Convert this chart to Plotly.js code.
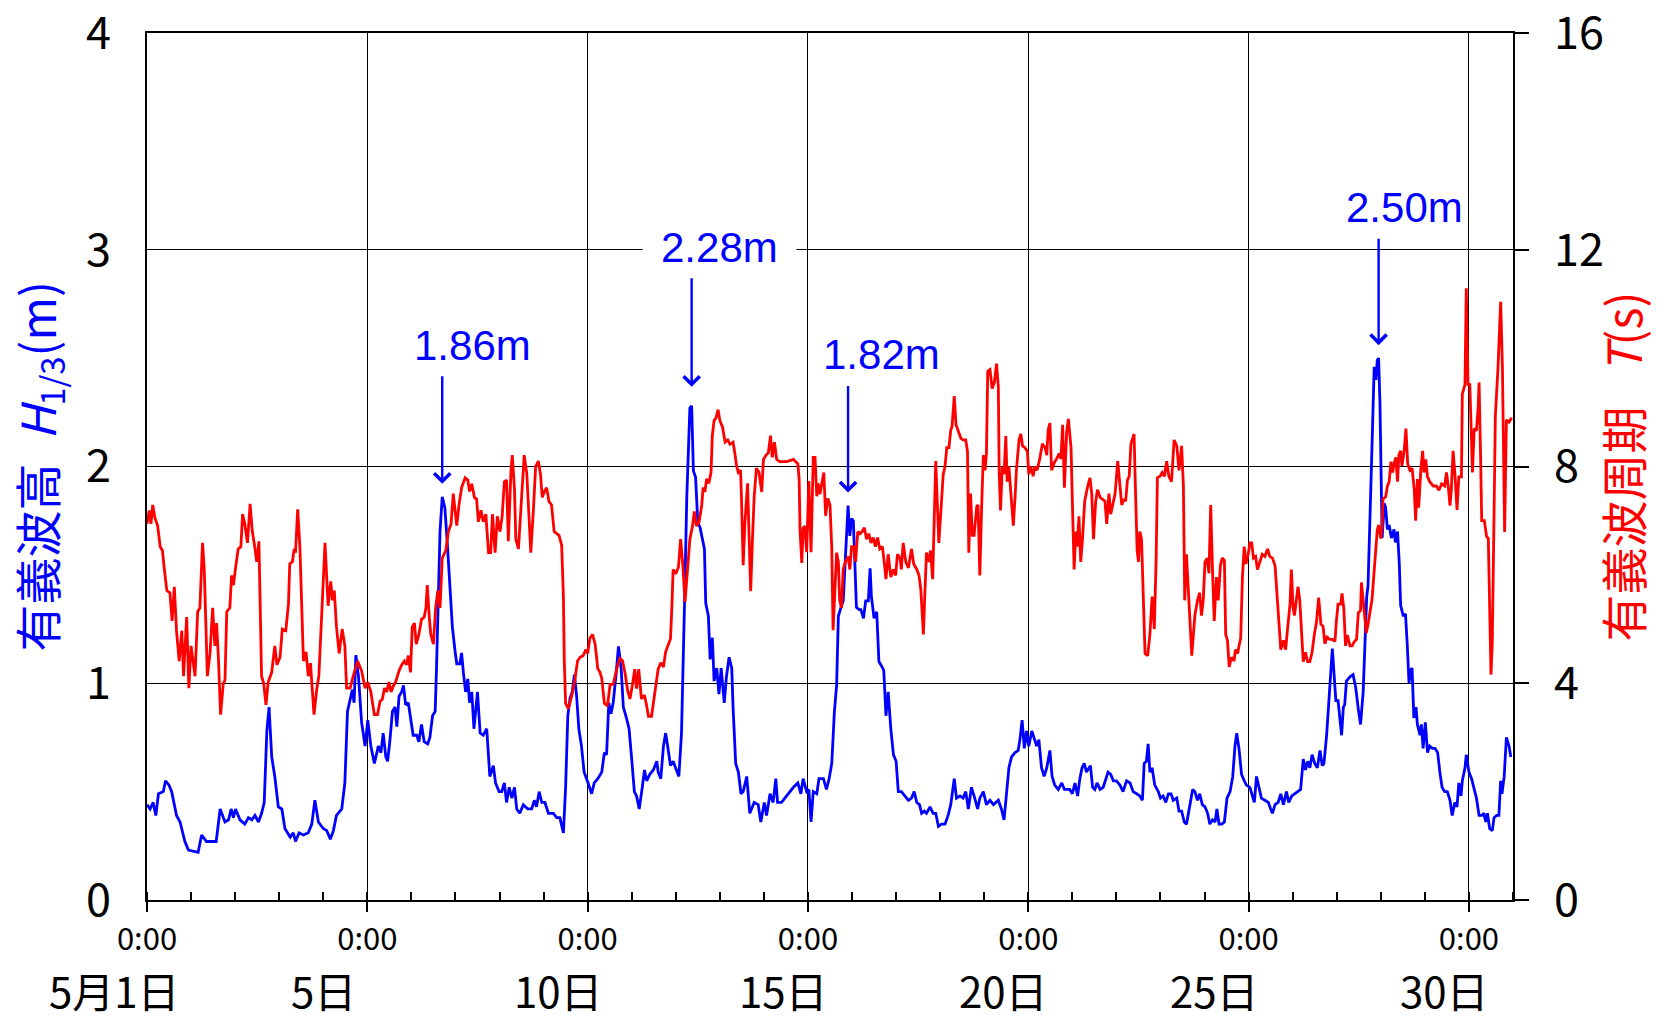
<!DOCTYPE html>
<html>
<head>
<meta charset="utf-8">
<script src="https://cdn.plot.ly/plotly-3.0.1.min.js"></script>
<style>
  html, body { margin: 0; padding: 0; background: #ffffff; }
  #chart { width: 1657px; height: 1020px; }
</style>
</head>
<body>
<div id="chart"></div>
<script>
// ---- DATA (time in days since 5/1 0:00) ----
const blueDay = [
  0.00,0.07,0.14,0.20,0.26,0.37,0.42,0.50,0.56,0.62,0.67,0.75,0.80,0.86,0.94,1.09,1.16,1.24,1.35,1.47,
  1.57,1.66,1.77,1.85,1.91,1.96,2.01,2.11,2.22,2.30,2.38,2.45,2.53,2.60,2.66,2.72,2.77,2.83,2.90,2.98,
  3.06,3.13,3.25,3.32,3.37,3.45,3.55,3.66,3.74,3.81,3.89,4.00,4.08,4.16,4.23,4.30,4.42,4.49,4.55,4.66,
  4.70,4.74,4.80,4.87,4.95,5.01,5.08,5.16,
  5.25,5.31,5.36,5.42,5.46,5.51,5.57,5.63,5.67,5.72,5.78,5.82,5.87,5.93,5.98,6.04,6.12,6.17,6.23,6.29,
  6.37,6.42,6.48,6.54,6.57,6.61,6.65,6.70,6.76,6.82,6.88,6.93,6.99,7.03,7.10,7.14,7.18,7.23,7.28,7.32,
  7.37,7.42,7.50,7.56,7.63,7.71,7.78,7.86,7.91,7.99,8.05,8.11,8.16,8.22,8.28,8.34,8.39,8.46,8.54,8.64,
  8.73,8.79,8.84,8.90,8.96,9.03,9.11,9.22,9.30,9.37,9.45,9.50,9.55,9.60,9.65,9.70,9.75,9.80,9.86,9.92,
  10.01,10.09,10.15,10.23,10.32,10.38,
  10.43,10.48,10.53,10.58,10.64,10.70,10.76,10.81,10.88,10.94,11.00,11.06,11.11,11.17,11.24,11.29,11.34,11.41,11.49,11.57,
  11.60,11.66,11.72,11.77,11.83,11.88,11.94,11.99,12.07,12.13,12.17,12.21,12.25,12.28,12.32,12.36,12.40,12.45,12.50,12.55,
  12.59,12.65,12.68,12.74,12.78,12.83,12.87,12.93,12.98,13.03,13.10,13.15,13.21,13.27,13.30,13.36,13.42,13.48,13.53,13.61,
  13.68,13.78,13.87,13.93,14.01,14.06,14.14,14.21,14.27,14.31,14.40,14.55,14.67,14.77,14.84,14.89,14.97,15.02,15.07,15.12,
  15.20,15.25,15.35,15.42,15.48,15.54,15.60,
  15.65,15.69,15.75,15.80,15.85,15.91,15.95,15.99,16.03,16.07,16.10,16.16,16.20,16.26,16.31,16.37,16.41,16.44,16.50,16.56,
  16.61,16.67,16.72,16.77,16.82,16.88,16.94,17.00,17.05,17.12,17.20,17.28,17.35,17.41,17.47,17.53,17.58,17.64,17.69,17.77,
  17.84,17.90,17.96,18.03,18.11,18.18,18.24,18.32,18.37,18.45,18.52,18.58,18.64,18.71,18.77,18.85,18.90,18.98,19.05,19.13,
  19.21,19.32,19.39,19.45,19.51,19.56,19.62,19.70,19.77,19.81,19.86,19.91,19.96,20.01,20.08,20.14,20.19,20.24,20.30,20.36,
  20.42,20.49,20.54,20.60,20.68,20.76,20.82,
  20.89,20.94,21.00,21.06,21.12,21.17,21.22,21.27,21.32,21.38,21.41,21.46,21.51,21.56,21.63,21.70,21.75,21.81,21.87,21.93,
  22.00,22.08,22.15,22.23,22.31,22.38,22.46,22.53,22.59,22.63,22.68,22.72,22.76,22.81,22.87,22.95,23.00,23.06,23.12,23.18,
  23.24,23.29,23.37,23.42,23.48,23.54,23.59,23.65,23.73,23.78,23.84,23.89,23.95,24.01,24.07,24.12,24.18,24.24,24.28,24.33,
  24.39,24.45,24.51,24.58,24.64,24.69,24.73,24.78,24.84,24.90,24.95,25.03,25.08,25.13,25.18,25.23,25.29,25.37,25.45,25.50,
  25.54,25.60,25.67,25.73,25.79,25.86,25.91,25.98,26.04,
  26.12,26.18,26.24,26.29,26.34,26.39,26.44,26.50,26.56,26.62,26.67,26.71,26.77,26.81,26.86,26.90,26.94,26.98,27.03,27.07,
  27.11,27.15,27.18,27.22,27.30,27.37,27.43,27.49,27.54,27.60,27.64,27.68,27.71,27.75,27.80,27.85,27.89,27.92,27.95,27.98,
  28.00,28.03,28.08,28.11,28.15,28.19,28.24,28.30,28.33,28.38,28.42,28.45,28.51,28.56,28.60,28.64,28.68,28.71,28.75,28.80,
  28.83,28.89,28.92,28.96,29.01,29.06,29.11,29.17,29.23,29.29,29.34,29.39,29.45,29.51,29.57,29.62,29.68,29.73,29.77,29.82,
  29.85,29.91,29.94,30.00,30.06,30.12,30.17,30.23,30.29,30.34,30.38,30.42,30.47,30.53,30.57,30.63,30.68,30.72,30.75,30.80,
  30.85,30.91,30.95
];
const blueH = [
  0.44,0.42,0.45,0.39,0.49,0.50,0.55,0.53,0.50,0.43,0.39,0.36,0.32,0.27,0.23,0.225,0.22,0.30,0.27,0.27,
  0.27,0.42,0.36,0.37,0.42,0.38,0.42,0.37,0.35,0.38,0.37,0.39,0.36,0.40,0.45,0.78,0.89,0.66,0.57,0.43,
  0.42,0.33,0.29,0.31,0.27,0.31,0.30,0.31,0.35,0.46,0.36,0.33,0.32,0.28,0.32,0.39,0.42,0.54,0.87,0.97,
  0.91,1.13,1.03,0.82,0.71,0.83,0.71,0.63,
  0.71,0.68,0.77,0.66,0.64,0.73,0.87,0.89,0.80,0.94,0.96,0.99,0.90,0.91,0.85,0.76,0.76,0.73,0.81,0.73,
  0.72,0.75,0.85,0.87,1.07,1.40,1.70,1.86,1.81,1.63,1.44,1.26,1.15,1.09,1.09,1.14,1.05,0.96,1.02,0.91,
  0.96,0.79,0.96,0.77,0.76,0.79,0.57,0.62,0.54,0.50,0.50,0.54,0.45,0.52,0.47,0.52,0.42,0.40,0.44,0.42,
  0.42,0.46,0.43,0.50,0.45,0.45,0.40,0.40,0.38,0.38,0.31,0.52,0.85,0.93,0.96,1.04,0.94,0.79,0.71,0.59,
  0.54,0.49,0.54,0.56,0.59,0.68,
  0.67,0.91,0.86,0.91,1.03,1.17,1.07,0.89,0.84,0.79,0.65,0.50,0.48,0.42,0.52,0.60,0.55,0.58,0.60,0.64,
  0.59,0.56,0.71,0.77,0.69,0.62,0.64,0.61,0.57,0.77,1.07,1.47,1.86,2.04,2.27,2.28,1.98,1.95,1.74,1.72,
  1.68,1.62,1.37,1.31,1.11,1.21,1.01,1.07,0.95,1.07,0.91,1.03,1.12,1.07,0.89,0.63,0.59,0.49,0.50,0.57,
  0.40,0.45,0.44,0.36,0.45,0.39,0.49,0.45,0.56,0.45,0.45,0.49,0.52,0.54,0.49,0.56,0.50,0.51,0.36,0.50,
  0.49,0.56,0.56,0.51,0.56,0.63,0.87,
  0.99,1.31,1.35,1.38,1.58,1.82,1.68,1.76,1.75,1.56,1.35,1.34,1.34,1.30,1.38,1.38,1.53,1.40,1.30,1.33,
  1.10,1.08,1.06,0.85,0.96,0.79,0.67,0.64,0.50,0.50,0.48,0.46,0.47,0.50,0.45,0.44,0.40,0.41,0.40,0.43,
  0.40,0.40,0.34,0.35,0.35,0.39,0.44,0.56,0.47,0.48,0.47,0.50,0.42,0.52,0.48,0.42,0.47,0.50,0.44,0.46,
  0.44,0.46,0.42,0.37,0.50,0.61,0.66,0.68,0.69,0.74,0.83,0.70,0.78,0.71,0.78,0.74,0.71,0.74,0.61,0.57,
  0.61,0.69,0.57,0.53,0.51,0.54,0.51,
  0.51,0.51,0.49,0.54,0.48,0.56,0.61,0.63,0.59,0.61,0.62,0.52,0.51,0.54,0.51,0.52,0.55,0.59,0.58,0.55,
  0.55,0.53,0.50,0.55,0.54,0.50,0.49,0.48,0.46,0.63,0.64,0.72,0.59,0.61,0.53,0.50,0.47,0.48,0.45,0.49,
  0.49,0.46,0.47,0.41,0.41,0.36,0.35,0.42,0.51,0.50,0.46,0.49,0.44,0.43,0.40,0.35,0.37,0.36,0.42,0.35,
  0.35,0.36,0.47,0.50,0.57,0.71,0.77,0.70,0.58,0.55,0.53,0.52,0.48,0.45,0.57,0.53,0.47,0.46,0.45,0.42,
  0.40,0.44,0.45,0.49,0.44,0.50,0.45,0.48,0.49,
  0.50,0.51,0.65,0.60,0.64,0.61,0.67,0.63,0.61,0.69,0.62,0.63,0.76,0.88,1.08,1.16,1.04,0.92,0.92,0.84,
  0.76,0.89,0.90,1.01,1.03,1.04,0.98,0.88,0.81,0.96,1.18,1.40,1.45,1.69,2.09,2.46,2.40,2.49,2.50,2.30,
  2.09,1.67,1.83,1.81,1.71,1.73,1.67,1.71,1.65,1.70,1.55,1.36,1.31,1.32,1.18,1.00,1.06,1.07,0.84,0.89,
  0.81,0.76,0.81,0.70,0.82,0.68,0.71,0.70,0.70,0.68,0.59,0.52,0.50,0.50,0.46,0.39,0.45,0.43,0.54,0.48,
  0.55,0.61,0.67,0.59,0.56,0.51,0.47,0.39,0.39,0.40,0.36,0.40,0.33,0.32,0.38,0.39,0.39,0.55,0.49,0.57,
  0.75,0.71,0.66
];
const redDay = [
  0.00,0.05,0.09,0.13,0.18,0.24,0.30,0.35,0.39,0.45,0.52,0.57,0.62,0.67,0.73,0.79,0.83,0.90,0.95,1.00,
  1.09,1.15,1.20,1.26,1.30,1.37,1.43,1.49,1.54,1.58,1.62,1.67,1.73,1.77,1.81,1.88,1.92,1.96,2.01,2.07,
  2.13,2.17,2.22,2.28,2.34,2.39,2.44,2.49,2.54,2.60,2.65,2.70,2.75,2.83,2.90,2.95,3.02,3.07,3.15,3.21,
  3.24,3.30,3.34,3.37,3.42,3.47,3.55,3.61,3.66,3.71,3.79,3.85,3.90,3.96,4.04,4.11,4.17,4.21,4.25,4.30,
  4.36,4.43,4.49,4.53,4.61,4.68,4.78,4.87,4.95,5.01,5.08,5.16,
  5.23,5.29,5.34,5.39,5.44,5.49,5.54,5.59,5.64,5.72,5.78,5.84,5.89,5.93,5.98,6.02,6.07,6.11,6.17,6.23,
  6.29,6.33,6.36,6.41,6.44,6.50,6.55,6.60,6.65,6.70,6.78,6.84,6.90,6.95,6.99,7.03,7.08,7.14,7.22,7.28,
  7.32,7.37,7.43,7.48,7.52,7.58,7.63,7.69,7.75,7.80,7.84,7.90,7.95,8.01,8.06,8.11,8.16,8.20,8.26,8.29,
  8.34,8.37,8.43,8.49,8.56,8.62,8.67,8.71,8.77,8.82,8.88,8.93,8.97,9.02,9.07,9.12,9.18,9.24,9.30,9.35,
  9.41,9.45,9.47,9.50,9.56,9.64,9.71,9.77,9.83,9.90,9.96,10.00,10.05,10.11,10.17,10.23,10.28,10.32,10.38,
  10.45,10.51,10.58,10.66,10.73,10.79,10.85,10.91,10.96,11.01,11.07,11.11,11.16,11.22,11.29,11.34,11.38,11.45,11.53,11.60,
  11.66,11.72,11.77,11.83,11.88,11.91,11.94,12.00,12.06,12.11,12.16,12.21,12.27,12.32,12.38,12.42,12.47,12.53,12.59,12.62,
  12.66,12.70,12.75,12.80,12.83,12.87,12.91,12.96,13.00,13.06,13.12,13.18,13.23,13.30,13.34,13.38,13.42,13.47,13.49,13.53,
  13.57,13.63,13.66,13.70,13.74,13.78,13.83,13.89,13.95,13.99,14.05,14.10,14.15,14.19,14.24,14.29,14.36,14.52,14.67,14.77,
  14.80,14.82,14.86,14.89,14.93,14.97,15.02,15.07,15.12,15.16,15.20,15.23,15.27,15.31,15.36,15.40,15.45,15.50,15.54,15.57,
  15.65,15.69,15.72,15.76,15.80,15.85,15.91,15.95,15.99,16.04,16.08,16.13,16.18,16.23,16.28,16.33,16.38,16.43,16.48,16.53,
  16.58,16.63,16.69,16.73,16.77,16.82,16.88,16.94,16.99,17.03,17.09,17.12,17.16,17.22,17.28,17.35,17.40,17.47,17.52,17.56,
  17.62,17.65,17.69,17.75,17.78,17.83,17.87,17.90,17.94,17.97,18.02,18.07,18.11,18.15,18.20,18.24,18.27,18.32,18.36,18.41,
  18.47,18.52,18.58,18.62,18.65,18.69,18.73,18.77,18.83,18.86,18.90,18.94,18.98,19.02,19.05,19.08,19.13,19.18,19.23,19.28,
  19.32,19.34,19.37,19.41,19.45,19.49,19.52,19.56,19.61,19.66,19.70,19.73,19.79,19.83,19.87,19.92,19.98,20.01,20.06,20.11,
  20.15,20.20,20.26,20.32,20.38,20.42,20.45,20.49,20.53,20.59,20.64,20.70,20.74,20.78,20.82,
  20.87,20.91,20.97,21.00,21.04,21.08,21.11,21.15,21.19,21.23,21.28,21.35,21.40,21.44,21.48,21.53,21.57,21.63,21.68,21.74,
  21.78,21.83,21.87,21.93,21.97,22.03,22.06,22.12,22.17,22.21,22.25,22.29,22.33,22.40,22.43,22.47,22.50,22.53,22.57,22.61,
  22.65,22.71,22.76,22.81,22.86,22.90,22.93,22.99,23.04,23.09,23.14,23.19,23.25,23.31,23.37,23.42,23.48,23.52,23.55,23.59,
  23.63,23.67,23.71,23.74,23.78,23.84,23.89,23.93,23.97,24.01,24.06,24.10,24.14,24.18,24.22,24.27,24.31,24.36,24.40,24.45,
  24.48,24.52,24.56,24.61,24.67,24.70,24.75,24.79,24.82,24.86,24.90,24.94,24.99,25.03,25.07,25.11,25.16,25.20,25.26,25.31,
  25.37,25.43,25.48,25.54,25.60,25.65,25.70,25.73,25.79,25.84,25.88,25.94,25.97,26.01,26.04,
  26.09,26.12,26.16,26.20,26.24,26.29,26.34,26.39,26.44,26.49,26.54,26.59,26.64,26.69,26.73,26.78,26.84,26.90,26.96,26.99,
  27.03,27.09,27.12,27.16,27.20,27.24,27.30,27.35,27.40,27.45,27.49,27.54,27.56,27.60,27.64,27.67,27.71,27.75,27.80,27.86,
  27.92,27.95,28.00,28.03,28.05,28.11,28.15,28.19,28.23,28.27,28.30,28.34,28.38,28.41,28.45,28.48,28.53,28.57,28.61,28.66,
  28.71,28.76,28.79,28.83,28.86,28.91,28.95,28.98,29.02,29.06,29.11,29.19,29.26,29.32,29.38,29.45,29.49,29.53,29.57,29.60,
  29.64,29.68,29.73,29.77,29.83,29.85,29.91,29.94,29.98,30.02,30.06,30.08,30.12,30.17,30.21,30.23,30.26,30.29,30.35,30.40,
  30.44,30.46,30.50,30.53,30.56,30.60,30.66,30.72,30.76,30.81,30.85,30.91,30.97
];
const redT = [
  6.94,7.19,6.94,7.29,7.05,6.91,6.52,6.45,6.13,5.71,5.67,5.15,5.78,4.97,4.41,4.97,4.13,5.22,3.91,4.69,
  4.13,5.32,5.39,6.59,6.10,4.13,4.55,5.39,4.69,5.11,4.48,3.42,3.99,4.06,5.32,5.39,5.99,5.81,6.13,6.48,
  6.52,7.12,6.94,6.59,7.31,6.80,6.55,6.24,6.62,4.13,3.99,3.60,4.02,4.20,4.69,4.34,4.48,5.00,4.97,5.46,
  6.20,6.24,6.48,6.41,7.21,6.52,4.41,4.58,4.13,4.37,3.42,3.88,4.13,5.25,6.59,5.43,5.88,5.53,5.71,5.04,
  4.55,5.00,4.69,3.91,3.91,4.13,4.41,4.23,3.91,4.02,3.84,3.42,
  3.42,3.67,3.70,3.91,3.84,4.02,3.84,3.95,4.02,4.23,4.34,4.41,4.34,4.51,4.20,5.04,5.11,4.72,4.90,5.18,
  5.22,5.39,5.81,5.18,4.90,4.72,5.39,5.71,5.39,6.31,6.45,6.80,6.94,7.50,7.22,6.91,7.29,7.61,7.79,7.75,
  7.54,7.68,7.43,7.40,6.98,7.19,6.98,7.12,6.41,6.41,7.12,6.41,7.08,6.80,7.08,7.72,7.75,6.62,7.93,8.21,
  7.57,6.66,6.48,7.36,8.21,7.86,7.08,6.41,7.22,8.00,8.10,7.86,7.43,7.54,7.61,7.36,7.29,6.80,6.76,6.73,
  6.55,5.60,4.41,3.63,3.53,3.77,4.06,4.41,4.48,4.51,4.62,4.55,4.83,4.90,4.72,4.27,4.20,4.09,3.63,
  3.58,3.98,3.98,4.26,4.46,4.42,4.18,3.86,3.71,3.94,4.26,3.90,4.26,3.71,3.78,3.58,3.39,3.39,3.86,4.26,
  4.38,4.30,4.58,4.70,4.82,5.38,6.10,6.02,6.14,6.66,6.18,5.50,6.18,6.66,6.90,7.17,6.90,6.98,7.29,7.61,
  7.53,7.77,7.69,7.89,8.57,8.85,8.89,9.05,8.85,8.73,8.45,8.49,8.41,8.45,8.25,8.01,7.89,7.93,7.45,6.18,
  6.98,7.69,6.82,5.70,6.66,7.45,7.97,7.89,7.53,8.13,8.21,8.25,8.57,8.17,8.45,8.13,8.09,8.09,8.13,8.05,
  7.77,6.82,6.22,6.86,6.90,6.42,7.73,6.42,8.17,8.17,7.45,7.69,7.49,7.69,7.89,7.09,7.41,7.29,6.50,4.98,
  6.41,6.24,5.53,5.39,6.10,6.24,6.34,6.10,6.52,6.52,6.24,6.80,6.76,6.80,6.87,6.66,6.76,6.59,6.69,6.52,
  6.69,6.48,6.52,6.24,5.92,6.38,5.96,6.10,5.99,6.38,6.31,6.10,6.59,6.24,6.13,6.48,6.20,6.10,5.99,5.74,
  4.90,5.60,6.41,6.24,6.45,5.92,7.22,8.10,7.22,6.59,7.22,7.86,8.00,8.35,8.35,8.67,8.74,9.30,8.77,8.67,
  8.52,8.49,8.49,8.28,6.41,7.50,6.73,6.73,7.26,7.29,5.99,7.22,8.21,7.93,8.24,9.76,9.79,9.44,9.55,9.90,
  9.47,7.86,7.19,8.00,7.86,8.56,7.72,8.00,7.50,6.91,7.43,7.93,8.49,8.60,8.38,8.35,8.28,7.86,8.00,7.82,
  8.00,7.93,8.14,8.42,8.35,8.21,8.67,8.80,7.93,8.07,8.14,8.24,8.14,8.77,7.61,
  8.63,8.88,8.35,7.36,6.10,6.80,6.52,7.08,6.24,6.66,7.36,7.64,7.79,7.50,6.66,7.36,7.57,7.43,7.40,7.36,
  6.94,7.50,7.12,7.33,7.50,8.10,7.79,7.29,7.40,7.36,7.75,7.82,8.42,8.60,7.64,6.45,6.24,6.80,6.66,5.60,
  4.55,4.51,4.90,5.60,5.00,6.24,7.79,7.82,7.89,7.82,8.10,7.82,7.72,8.49,8.38,7.93,8.38,7.64,5.53,6.38,
  5.67,5.11,4.51,4.83,5.25,5.53,5.67,5.25,5.53,6.24,6.31,6.03,7.29,6.10,5.15,5.96,5.53,6.17,6.31,6.27,
  4.90,4.79,4.30,4.48,4.41,4.62,4.55,4.72,4.83,5.96,6.52,6.20,6.38,6.59,6.59,6.31,6.34,6.10,6.27,6.38,
  6.34,6.48,6.34,6.31,6.17,5.60,4.97,4.62,4.79,4.62,4.97,5.46,6.10,5.39,5.25,
  5.54,5.78,5.54,4.97,4.40,4.57,4.40,4.40,4.57,4.89,5.13,5.58,5.09,5.05,4.73,4.85,4.81,4.81,4.77,5.13,
  5.46,5.46,5.66,5.38,4.69,4.89,4.69,4.69,4.77,4.81,5.30,5.34,5.86,5.54,5.09,4.93,5.09,5.26,5.54,6.19,
  6.83,6.92,6.67,6.92,7.40,7.44,7.64,7.72,8.09,7.89,8.05,8.17,7.72,8.21,8.29,8.01,8.29,8.70,8.05,7.93,
  7.97,7.56,7.00,7.77,7.24,7.97,8.29,7.89,8.13,7.81,7.72,7.64,7.64,7.56,7.68,7.64,7.89,7.64,7.28,7.56,
  8.29,7.89,7.20,7.81,7.81,9.34,9.51,11.29,9.51,9.51,8.37,7.89,8.70,8.66,9.10,9.55,8.37,7.00,7.00,6.71,
  6.67,5.54,4.16,4.73,6.75,8.94,9.83,11.04,9.83,6.79,8.86,8.82,8.90
];
// peak annotations
const peakDay = [6.70, 12.36, 15.91, 27.95];
const peakH = [1.86, 2.28, 1.82, 2.50];
// x-axis tick labels and date labels
const xTickVals = [0, 5, 10, 15, 20, 25, 30];
const xTickText = ['0:00', '0:00', '0:00', '0:00', '0:00', '0:00', '0:00'];
const dateLabels = ['5月1日', '5日', '10日', '15日', '20日', '25日', '30日'];
const yLeftTicks = [0, 1, 2, 3, 4];
const yRightTicks = [0, 4, 8, 12, 16];

if (blueDay.length !== blueH.length) console.error('blue length mismatch', blueDay.length, blueH.length);
if (redDay.length !== redT.length) console.error('red length mismatch', redDay.length, redT.length);

// ---- STYLE / LAYOUT ----
const W = 1657, H = 1020, ML = 147, MR = 144, MT = 33, MB = 120;
const PW = W - ML - MR;
const JP = '"Noto Sans CJK JP", "Noto Sans", sans-serif';
const AR = '"Liberation Sans", Arial, sans-serif';
const BLUE = '#0000ff', RED = '#ff0000';

const dateLabelPx = [114, 323, 558, 783, 1003, 1214, 1444];
const peakTextShift = [[30, 151], [28, 158], [33, 151], [26, 151]];
const peakArrowLen = [-122, -129, -121, -121];
const peakArrowStandoff = [13, 19, 13, 13];

const annotations = [];
annotations.push({
  xref: 'paper', yref: 'paper', x: 0, y: 0.5, xshift: 37 - ML,
  text: '有義波高\u2002<i>H</i><sub>1/3</sub>(m)', textangle: -90, showarrow: false,
  xanchor: 'center', yanchor: 'middle',
  font: { family: JP, size: 47, color: BLUE }
});
annotations.push({
  xref: 'paper', yref: 'paper', x: 1, y: 0.5, xshift: 1621 - (W - MR),
  text: '有義波周期\u2002\u2009<i>T</i>(s)', textangle: -90, showarrow: false,
  xanchor: 'center', yanchor: 'middle',
  font: { family: JP, size: 47, color: RED }
});
dateLabels.forEach((t, i) => {
  annotations.push({
    xref: 'paper', yref: 'paper', x: (dateLabelPx[i] - ML) / PW, y: 0, yshift: -89,
    text: t, showarrow: false, xanchor: 'center', yanchor: 'middle',
    font: { family: JP, size: 42, color: '#000000' }
  });
});
peakDay.forEach((d, i) => {
  const a = {
    xref: 'x', yref: 'y', x: d, y: peakH[i],
    xshift: peakTextShift[i][0], yshift: peakTextShift[i][1],
    text: peakH[i].toFixed(2) + 'm', showarrow: false,
    xanchor: 'center', yanchor: 'middle',
    font: { family: AR, size: 42, color: BLUE }
  };
  if (i === 1) { a.bgcolor = '#ffffff'; a.borderpad = 18; }
  annotations.push(a);
});
peakDay.forEach((d, i) => {
  annotations.push({
    xref: 'x', yref: 'y', x: d, y: peakH[i], text: '',
    showarrow: true, ax: 0, ay: peakArrowLen[i], standoff: peakArrowStandoff[i],
    arrowhead: 4, arrowsize: 1.3, arrowwidth: 2.4, arrowcolor: BLUE
  });
});

const traces = [
  { x: blueDay, y: blueH, type: 'scatter', mode: 'lines', name: '有義波高',
    line: { color: BLUE, width: 2.8 }, xaxis: 'x', yaxis: 'y', hoverinfo: 'skip' },
  { x: redDay, y: redT, type: 'scatter', mode: 'lines', name: '有義波周期',
    line: { color: RED, width: 2.8 }, xaxis: 'x', yaxis: 'y2', hoverinfo: 'skip' }
];

const layout = {
  width: W, height: H,
  margin: { l: ML, r: MR, t: MT, b: MB, pad: 0 },
  paper_bgcolor: '#ffffff', plot_bgcolor: '#ffffff',
  showlegend: false,
  font: { family: JP, color: '#000000' },
  xaxis: {
    range: [0, 31], tickmode: 'array', tickvals: xTickVals, ticktext: xTickText,
    ticks: 'outside', ticklen: 10, tickwidth: 2, tickcolor: '#000000',
    showgrid: true, gridcolor: '#000000', gridwidth: 1,
    showline: true, linecolor: '#000000', linewidth: 2, mirror: true,
    zeroline: false, ticklabelstandoff: 1, ticklabeloverflow: 'allow',
    tickfont: { family: JP, size: 31, color: '#000000' },
    minor: { tickmode: 'linear', tick0: 0, dtick: 1, ticks: 'inside', ticklen: 8,
             tickwidth: 2, tickcolor: '#000000', showgrid: false },
    fixedrange: true
  },
  yaxis: {
    range: [0, 4], tickmode: 'array', tickvals: yLeftTicks,
    ticks: '', showgrid: true, gridcolor: '#000000', gridwidth: 1,
    showline: true, linecolor: '#000000', linewidth: 2, zeroline: false,
    ticklabelstandoff: 25, ticklabeloverflow: 'allow',
    tickfont: { family: JP, size: 45, color: '#000000' },
    fixedrange: true
  },
  yaxis2: {
    range: [0, 16], tickmode: 'array', tickvals: yRightTicks,
    overlaying: 'y', side: 'right', anchor: 'x',
    ticks: 'outside', ticklen: 14, tickwidth: 2, tickcolor: '#000000',
    showgrid: false, showline: true, linecolor: '#000000', linewidth: 2, zeroline: false,
    ticklabelstandoff: 16, ticklabeloverflow: 'allow',
    tickfont: { family: JP, size: 45, color: '#000000' },
    fixedrange: true
  },
  annotations: annotations
};

Plotly.newPlot('chart', traces, layout, { displayModeBar: false, staticPlot: true });
</script>
</body>
</html>
